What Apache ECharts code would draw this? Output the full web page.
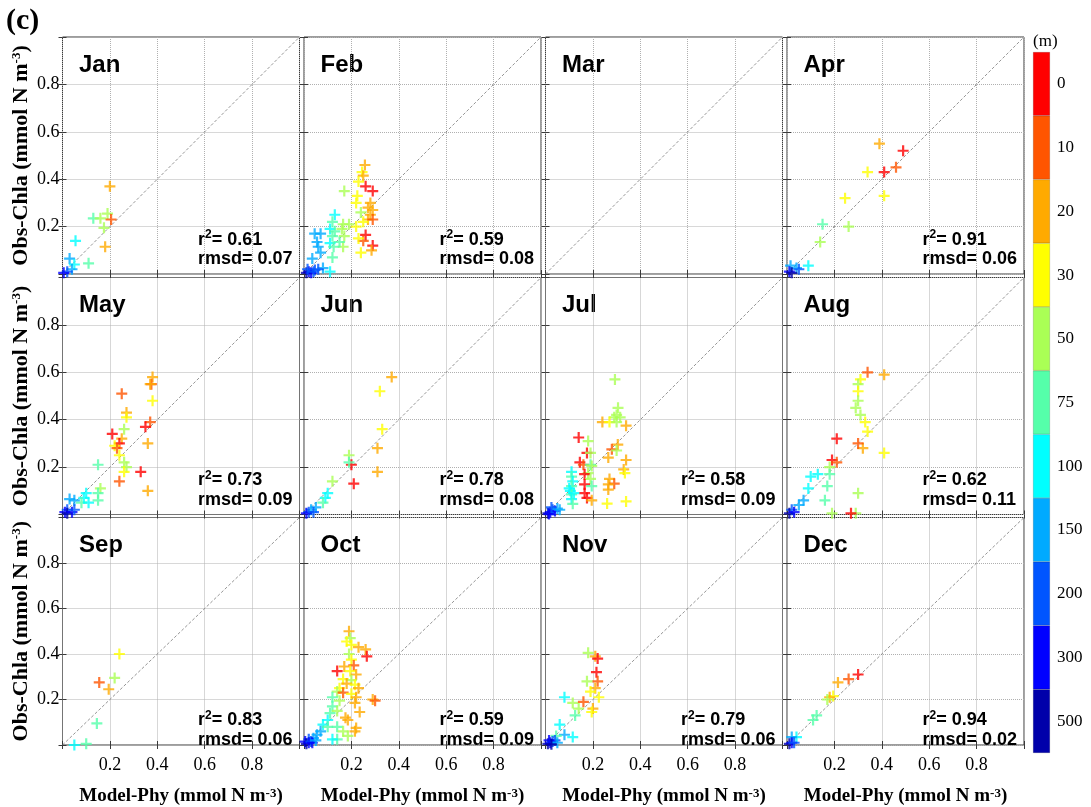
<!DOCTYPE html>
<html>
<head>
<meta charset="utf-8">
<script src="https://cdn.jsdelivr.net/npm/echarts@6/dist/echarts.min.js"></script>
<style>
  html, body { margin: 0; padding: 0; background: #fff; }
  #chart { width: 1091px; height: 807px; }
</style>
</head>
<body>
<div id="chart"></div>
<script>
// ---- data ----
const months = ['Jan', 'Feb', 'Mar', 'Apr', 'May', 'Jun', 'Jul', 'Aug', 'Sep', 'Oct', 'Nov', 'Dec'];
const depthLevels = [0, 10, 20, 30, 50, 75, 100, 150, 200, 300, 500];
const depthColors = ['#ff0000', '#ff5500', '#ffaa00', '#ffff00', '#aaff55', '#55ffaa',
                     '#00ffff', '#00aaff', '#0055ff', '#0000ff', '#0000aa'];
const tickValues = [0.2, 0.4, 0.6, 0.8];
const r2Values = [0.61, 0.59, null, 0.91, 0.73, 0.78, 0.58, 0.62, 0.83, 0.59, 0.79, 0.94];
const rmsdValues = [0.07, 0.08, null, 0.06, 0.09, 0.08, 0.09, 0.11, 0.06, 0.09, 0.06, 0.02];

// points: [model phytoplankton, observed chla, depth (m)]
const jan = [[0.20,0.37,20],[0.13,0.235,75],[0.16,0.235,50],[0.19,0.255,50],[0.205,0.23,10],
  [0.175,0.195,50],[0.18,0.115,20],[0.055,0.14,100],[0.03,0.065,150],[0.05,0.04,100],
  [0.11,0.045,75],[0.04,0.02,150],[0.02,0.01,200],[0.005,0.005,300]];
const feb = [[0.257,0.46,20],[0.245,0.43,30],[0.25,0.415,20],[0.23,0.39,30],[0.26,0.37,0],
  [0.29,0.35,0],[0.17,0.35,50],[0.225,0.33,30],[0.22,0.30,30],[0.28,0.30,20],[0.27,0.28,20],
  [0.29,0.27,20],[0.28,0.25,20],[0.24,0.26,50],[0.27,0.23,20],[0.29,0.23,10],[0.25,0.22,30],
  [0.22,0.20,30],[0.26,0.165,0],[0.25,0.14,10],[0.29,0.12,0],[0.285,0.10,20],[0.24,0.09,30],
  [0.23,0.15,30],[0.19,0.21,50],[0.165,0.21,50],[0.16,0.19,50],[0.17,0.16,50],[0.165,0.115,50],
  [0.15,0.135,75],[0.13,0.25,100],[0.12,0.22,75],[0.11,0.19,100],[0.13,0.18,75],[0.12,0.16,75],
  [0.11,0.13,100],[0.125,0.115,75],[0.12,0.07,75],[0.11,0.01,100],[0.045,0.17,150],[0.07,0.17,150],
  [0.06,0.115,150],[0.07,0.09,150],[0.055,0.135,150],[0.035,0.065,150],[0.08,0.025,150],
  [0.046,0.017,200],[0.02,0.01,300],[0.01,0.005,500],[0.03,0.005,300],[0.04,0.01,200],
  [0.015,0.02,200],[0.06,0.02,200]];
const mar = [];
const apr = [[0.39,0.55,20],[0.49,0.52,0],[0.46,0.45,10],[0.41,0.43,0],[0.34,0.43,30],
  [0.41,0.33,30],[0.245,0.32,30],[0.26,0.20,50],[0.15,0.21,75],[0.14,0.135,50],
  [0.015,0.035,150],[0.04,0.025,150],[0.09,0.035,100],[0.01,0.01,300],[0.05,0.02,200],[0.02,0.005,500]];
const may = [[0.38,0.58,20],[0.375,0.55,10],[0.37,0.55,20],[0.38,0.48,30],[0.37,0.39,10],
  [0.35,0.37,0],[0.36,0.30,20],[0.25,0.51,10],[0.27,0.43,20],[0.27,0.41,30],[0.26,0.36,50],
  [0.25,0.32,20],[0.24,0.30,0],[0.21,0.34,0],[0.22,0.29,30],[0.23,0.28,10],[0.24,0.25,30],
  [0.26,0.22,50],[0.27,0.20,50],[0.26,0.18,30],[0.33,0.18,0],[0.24,0.14,10],[0.36,0.10,20],
  [0.15,0.21,75],[0.16,0.11,50],[0.15,0.09,75],[0.10,0.09,100],[0.09,0.07,100],[0.08,0.05,75],
  [0.05,0.06,150],[0.03,0.065,150],[0.02,0.02,200],[0.01,0.01,300],[0.02,0.005,500],
  [0.04,0.01,300],[0.05,0.02,200],[0.11,0.05,100],[0.15,0.06,75]];
const jun = [[0.37,0.58,20],[0.32,0.52,30],[0.33,0.36,30],[0.31,0.28,20],[0.31,0.18,20],
  [0.20,0.21,0],[0.21,0.13,0],[0.19,0.25,50],[0.19,0.22,75],[0.12,0.14,50],[0.10,0.09,100],
  [0.09,0.07,100],[0.08,0.05,75],[0.05,0.03,150],[0.03,0.02,150],[0.02,0.01,200],
  [0.01,0.005,300],[0.04,0.01,200]];
const jul = [[0.293,0.57,50],[0.306,0.45,50],[0.30,0.42,50],[0.29,0.41,50],[0.315,0.41,50],
  [0.24,0.39,20],[0.27,0.39,30],[0.34,0.375,20],[0.30,0.39,50],[0.14,0.325,0],[0.18,0.31,50],
  [0.305,0.295,20],[0.28,0.275,10],[0.30,0.27,50],[0.175,0.26,0],[0.19,0.26,50],[0.265,0.24,20],
  [0.34,0.23,20],[0.145,0.22,0],[0.16,0.21,10],[0.19,0.21,75],[0.195,0.205,50],[0.33,0.19,20],
  [0.335,0.175,30],[0.18,0.175,50],[0.165,0.17,0],[0.19,0.15,50],[0.27,0.15,20],[0.29,0.13,10],
  [0.265,0.127,20],[0.165,0.127,0],[0.195,0.12,75],[0.265,0.105,20],[0.165,0.09,0],[0.175,0.07,0],
  [0.195,0.06,20],[0.26,0.046,30],[0.34,0.055,30],
  [0.11,0.18,100],[0.11,0.16,75],[0.115,0.14,100],[0.11,0.12,75],[0.105,0.10,100],[0.11,0.085,75],
  [0.11,0.065,100],[0.115,0.045,75],[0.10,0.11,100],[0.12,0.09,100],
  [0.01,0.005,500],[0.02,0.01,300],[0.03,0.02,200],[0.04,0.015,300],[0.05,0.025,150],
  [0.025,0.03,200],[0.06,0.02,150],[0.015,0.002,300]];
const aug = [[0.34,0.60,10],[0.41,0.59,20],[0.31,0.57,30],[0.30,0.55,50],[0.30,0.52,30],
  [0.30,0.48,50],[0.29,0.45,50],[0.31,0.42,50],[0.33,0.39,30],[0.34,0.35,30],[0.32,0.28,20],
  [0.30,0.30,10],[0.41,0.26,30],[0.30,0.09,50],[0.29,0.005,50],[0.21,0.32,0],[0.19,0.23,0],
  [0.21,0.22,10],[0.18,0.20,50],[0.17,0.12,75],[0.18,0.17,75],[0.16,0.06,75],[0.19,0.005,50],
  [0.13,0.17,100],[0.10,0.16,100],[0.09,0.11,100],[0.07,0.06,150],[0.05,0.04,150],
  [0.02,0.02,200],[0.01,0.005,500],[0.03,0.01,300],[0.27,0.005,0]];
const sep = [[0.24,0.40,30],[0.155,0.275,10],[0.195,0.245,20],[0.22,0.295,50],[0.145,0.095,75],
  [0.05,0.0,100],[0.10,0.005,75]];
const oct = [[0.19,0.50,20],[0.195,0.47,50],[0.18,0.455,30],[0.20,0.44,30],[0.23,0.43,20],
  [0.26,0.42,20],[0.265,0.39,0],[0.19,0.40,50],[0.20,0.375,30],[0.21,0.35,10],[0.17,0.345,20],
  [0.14,0.325,0],[0.195,0.325,30],[0.22,0.31,20],[0.165,0.29,30],[0.20,0.285,50],[0.18,0.27,20],
  [0.215,0.265,30],[0.23,0.25,20],[0.15,0.25,30],[0.14,0.235,50],[0.165,0.23,10],[0.20,0.225,30],
  [0.22,0.21,20],[0.29,0.20,20],[0.30,0.195,10],[0.12,0.21,75],[0.15,0.195,50],[0.215,0.185,20],
  [0.235,0.145,20],[0.12,0.17,75],[0.14,0.15,50],[0.175,0.12,20],[0.185,0.11,20],[0.22,0.075,20],
  [0.215,0.06,20],[0.11,0.14,75],[0.10,0.11,100],[0.08,0.09,100],[0.10,0.08,75],[0.14,0.08,75],
  [0.165,0.06,50],[0.185,0.04,50],[0.14,0.025,75],[0.07,0.06,150],[0.055,0.045,150],
  [0.04,0.03,150],[0.02,0.025,200],[0.005,0.015,300],[0.12,0.025,100],[0.01,0.005,500],
  [0.02,0.01,300],[0.03,0.015,200],[0.035,0.01,300],[0.05,0.02,150]];
const nov = [[0.18,0.405,50],[0.21,0.39,20],[0.22,0.38,0],[0.215,0.32,0],[0.22,0.28,10],
  [0.21,0.25,20],[0.19,0.235,30],[0.175,0.28,50],[0.115,0.185,50],[0.14,0.16,50],[0.125,0.13,75],
  [0.08,0.21,100],[0.20,0.16,20],[0.195,0.145,30],[0.16,0.19,10],[0.225,0.21,30],[0.06,0.09,100],
  [0.115,0.035,100],[0.08,0.045,150],[0.045,0.04,75],[0.01,0.005,500],[0.02,0.01,300],
  [0.03,0.015,200],[0.04,0.02,200],[0.015,0.02,300],[0.05,0.01,150],[0.025,0.003,500]];
const dec = [[0.30,0.31,0],[0.26,0.29,10],[0.215,0.275,20],[0.195,0.215,30],[0.18,0.21,20],
  [0.17,0.20,50],[0.125,0.13,75],[0.11,0.11,75],[0.04,0.035,100],[0.02,0.035,150],
  [0.01,0.005,500],[0.02,0.01,300],[0.03,0.01,200]];
const monthPoints = [jan, feb, mar, apr, may, jun, jul, aug, sep, oct, nov, dec];

// ---- layout ----
const colLeft = [62.5, 304, 545.5, 787];
const rowTop = [37, 277.5, 517.5];
const panelSize = 237;
const serif = '"Liberation Serif", "Times New Roman", serif';
const sans = '"Liberation Sans", Arial, sans-serif';
const plusPath = 'path://M4,0H6V4H10V6H6V10H4V6H0V4H4Z';

function depthColor(d) {
  const i = depthLevels.indexOf(d);
  return depthColors[i < 0 ? depthColors.length - 1 : i];
}
function tickFmt(v) {
  return tickValues.some(t => Math.abs(t - v) < 1e-6) ? v.toFixed(1) : '';
}

const grids = [], xAxes = [], yAxes = [], series = [], graphics = [];
const supRich = {
  s: { fontFamily: serif, fontWeight: 'bold', fontSize: 13, verticalAlign: 'top', lineHeight: 10, color: '#000' }
};

months.forEach((m, i) => {
  const col = i % 4, row = Math.floor(i / 4);
  const left = colLeft[col], top = rowTop[row];
  grids.push({ left, top, width: panelSize, height: panelSize, show: true,
    borderColor: '#3a3a3a', borderWidth: 1, backgroundColor: '#fff' });
  const tick = { show: true, inside: true, length: 4, lineStyle: { color: '#3a3a3a', width: 1 } };
  const common = { type: 'value', min: 0, max: 1, interval: 0.2, gridIndex: i,
    axisLine: { show: false }, axisTick: tick };
  xAxes.push(Object.assign({}, common, {
    position: 'bottom',
    splitLine: { show: true, lineStyle: { type: 'dotted', color: '#b0b0b0', width: 1 } },
    axisLabel: { show: row === 2, formatter: tickFmt, fontFamily: serif, fontSize: 18, color: '#000', margin: 11 },
    name: row === 2 ? 'Model-Phy (mmol N m{s|-3})' : '',
    nameLocation: 'middle', nameGap: 42,
    nameTextStyle: { fontFamily: serif, fontWeight: 'bold', fontSize: 19, color: '#000', rich: supRich }
  }));
  xAxes.push(Object.assign({}, common, {
    position: 'top', splitLine: { show: false }, axisLabel: { show: false }
  }));
  yAxes.push(Object.assign({}, common, {
    position: 'left',
    splitLine: { show: true, lineStyle: { type: 'dotted', color: '#b0b0b0', width: 1 } },
    axisLabel: { show: col === 0, formatter: tickFmt, fontFamily: serif, fontSize: 18, color: '#000', margin: 3 },
    name: col === 0 ? 'Obs-Chla (mmol N m{s|-3})' : '',
    nameLocation: 'middle', nameGap: 30, nameRotate: 90,
    nameTextStyle: { fontFamily: serif, fontWeight: 'bold', fontSize: 22, color: '#000', rich: supRich }
  }));
  yAxes.push(Object.assign({}, common, {
    position: 'right', splitLine: { show: false }, axisLabel: { show: false }
  }));

  // 1:1 reference line
  series.push({ type: 'line', xAxisIndex: 2 * i, yAxisIndex: 2 * i, data: [[0, 0], [1, 1]],
    symbol: 'none', silent: true, z: 1,
    lineStyle: { color: '#7a7a7a', width: 0.8, type: [3, 2] } });
  // observations
  series.push({ type: 'scatter', xAxisIndex: 2 * i, yAxisIndex: 2 * i, z: 3,
    symbol: plusPath, symbolSize: 11, silent: true,
    data: monthPoints[i].map(p => ({ value: [p[0], p[1]], itemStyle: { color: depthColor(p[2]) } })) });

  // month label
  graphics.push({ type: 'text', left: left + 16.5, top: top + 16,
    style: { text: m, font: 'bold 24px ' + sans, fill: '#000' } });
  // statistics
  if (r2Values[i] !== null) {
    const bottom = top + panelSize;
    graphics.push({ type: 'text', left: left + 135.5, top: bottom - 45,
      style: { text: '{b|r}{t|2}{b|= ' + r2Values[i].toFixed(2) + '}',
        rich: { b: { font: 'bold 18px ' + sans, fill: '#000', lineHeight: 22 },
                t: { font: 'bold 12px ' + sans, fill: '#000', verticalAlign: 'top', lineHeight: 12 } } } });
    graphics.push({ type: 'text', left: left + 135.5, top: bottom - 25.5,
      style: { text: 'rmsd= ' + rmsdValues[i].toFixed(2), font: 'bold 18px ' + sans, fill: '#000', lineHeight: 22 } });
  }
});

// depth colour bar
const cb = months.length;
grids.push({ left: 1033, top: 52, width: 17, height: 701 });
xAxes.push({ type: 'value', gridIndex: cb, min: 0, max: 1, show: false });
yAxes.push({ type: 'category', gridIndex: cb, data: depthLevels.map(String), inverse: true,
  position: 'right', axisLine: { show: false }, axisTick: { show: false }, splitLine: { show: false },
  axisLabel: { fontFamily: serif, fontSize: 17, color: '#000', margin: 7 } });
series.push({ type: 'bar', xAxisIndex: 2 * cb, yAxisIndex: 2 * cb, barWidth: '100%', silent: true,
  data: depthLevels.map((d, k) => ({ value: 1,
    itemStyle: { color: depthColors[k], borderColor: 'rgba(0,0,0,0.3)', borderWidth: 0.5 } })) });

graphics.push({ type: 'text', left: 1033, top: 33,
  style: { text: '(m)', font: '17px ' + serif, fill: '#000' } });
graphics.push({ type: 'text', left: 6, top: 6,
  style: { text: '(c)', font: 'bold 30px ' + serif, fill: '#000' } });

const chart = echarts.init(document.getElementById('chart'), null, { renderer: 'canvas' });
chart.setOption({
  animation: false,
  backgroundColor: '#fff',
  grid: grids,
  xAxis: xAxes,
  yAxis: yAxes,
  series: series,
  graphic: graphics
});
</script>
</body>
</html>
